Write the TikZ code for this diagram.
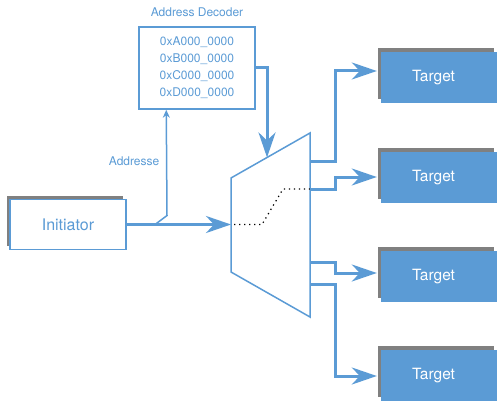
\documentclass[tikz,border=0pt]{standalone}
\usepackage{fontspec}
\setmainfont{TeX Gyre Heros}
\usetikzlibrary{arrows.meta,shadows,calc}

\definecolor{busblue}{RGB}{91,155,213}
\definecolor{shadowgray}{RGB}{128,128,128}

\tikzset{
  graybox/.style={general shadow={fill=shadowgray, shadow xshift=-3.5pt, shadow yshift=4pt}},
  initbox/.style={graybox, draw=busblue, line width=1.5pt, fill=white,
    minimum width=116pt, minimum height=50pt, inner sep=0pt,
    text=busblue, font=\fontsize{16}{18}\selectfont},
  targetbox/.style={graybox, fill=busblue, minimum width=116pt, minimum height=51pt,
    inner sep=0pt, text=white, font=\fontsize{15.5}{18}\selectfont},
  decbox/.style={draw=busblue, line width=1.5pt, minimum width=116pt, minimum height=82pt,
    inner sep=0pt, align=center, text=busblue, font=\fontsize{12}{17}\selectfont},
  lbl/.style={text=busblue, font=\fontsize{12}{14}\selectfont, inner sep=0pt},
  wire/.style={draw=busblue, line width=1.5pt},
  bus/.style={draw=busblue, line width=3pt, -{Stealth[length=25pt,width=17pt,inset=8pt]}},
}

\begin{document}
\begin{tikzpicture}[x=1pt, y=-1pt]
  \useasboundingbox (0,0) rectangle (497,401);

  % Initiator and the address decoder
  \node[initbox] (init) at (68,224.5) {Initiator};
  \node[decbox] (dec) at (197,68) {0xA000\_0000\\0xB000\_0000\\0xC000\_0000\\0xD000\_0000};
  \node[lbl] (dectitle) at (197,12) {Address Decoder};

  % Targets
  \node[targetbox] (t1) at (439,77.5) {\hspace*{-11pt}Target};
  \node[targetbox] (t2) at (439,177.5) {\hspace*{-11pt}Target};
  \node[targetbox] (t3) at (439,276.5) {\hspace*{-11pt}Target};
  \node[targetbox] (t4) at (439,375.5) {\hspace*{-11pt}Target};

  % Multiplexer
  \coordinate (mtl) at (231,178);
  \coordinate (mtr) at (310,133);
  \coordinate (mbr) at (310,317);
  \coordinate (mbl) at (231,272);
  \draw[wire] (mtl) -- (mtr) -- (mbr) -- (mbl) -- cycle;
  \coordinate (selin) at ($(mtl)!0.456!(mtr)$);

  % Path through the multiplexer
  \draw[black, line width=1.2pt, dash pattern=on 1.3pt off 3.7pt]
    (234,224.5) -- (262,224.5) -- (283,189) -- (310,189);

  % Initiator to multiplexer
  \draw[bus] (init.east) -- (init.east -| mtl);

  % Address to the decoder
  \coordinate (tap) at (155,224.5);
  \coordinate (addr) at ($(dec.south west)+(28,0)$);
  \draw[wire, -{Stealth[length=8pt,width=7pt]}] (tap) -- ++(12,-9) -- (addr);
  \node[lbl, anchor=east] (addrlbl) at (159.5,161) {Addresse};

  % Decoder to multiplexer select
  \draw[bus] (dec.east) -| (selin);

  % Multiplexer outputs to the targets
  \coordinate (o1) at (310,161);
  \coordinate (o2) at (310,189);
  \coordinate (o3) at (310,262);
  \coordinate (o4) at (310,284);
  \draw[bus, shorten >=4pt] (o1) -- ++(25,0) |- ($(t1.west)+(0,-6.5)$);
  \draw[bus, shorten >=4pt] (o2) -- ++(25,0) |- ($(t2.west)+(0,-0.5)$);
  \draw[bus, shorten >=4pt] (o3) -- ++(25,0) |- ($(t3.west)+(0,-3.5)$);
  \draw[bus, shorten >=4pt] (o4) -- ++(25,0) |- ($(t4.west)+(0,0.5)$);
\end{tikzpicture}
\end{document}
